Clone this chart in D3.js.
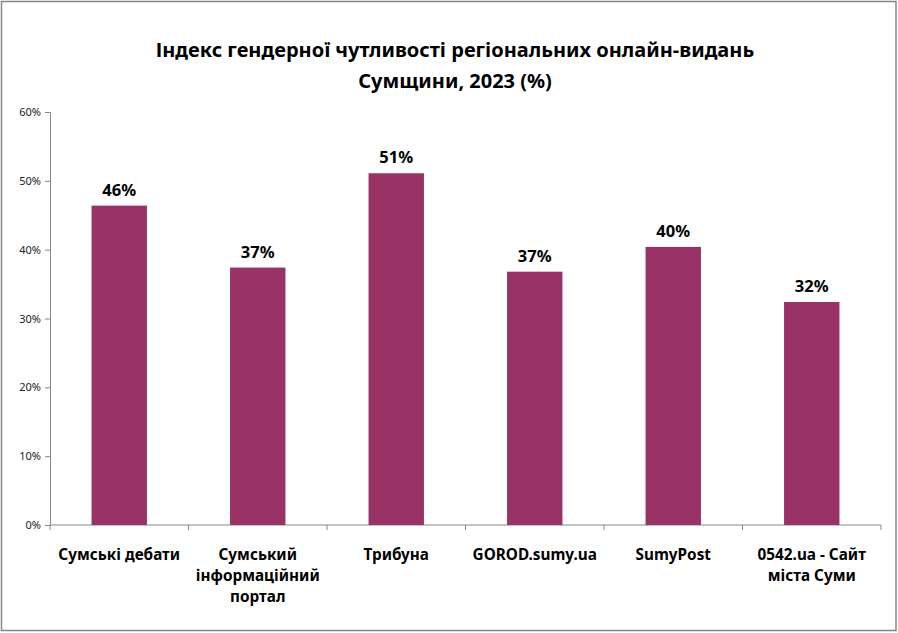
<!DOCTYPE html>
<html lang="uk">
<head>
<meta charset="UTF-8">
<title>Індекс гендерної чутливості</title>
<script src="https://d3js.org/d3.v7.min.js"></script>
<style>
    body { margin: 0; padding: 0; background: #fff; }
    svg { display: block; font-family: "Noto Sans", "Open Sans", sans-serif; }
    .cat-label { font-size: 15.3px; font-weight: bold; fill: #000; }
    .val-label { font-size: 16.5px; font-weight: bold; fill: #000; }
    .title { font-size: 20px; font-weight: bold; fill: #000; }
</style>
</head>
<body>
<div id="chart"></div>
<script>
    const categories = [
        ["Сумські дебати"],
        ["Сумський", "інформаційний", "портал"],
        ["Трибуна"],
        ["GOROD.sumy.ua"],
        ["SumyPost"],
        ["0542.ua - Сайт", "міста Суми"]
    ];
    const values = [46.4, 37.4, 51.1, 36.8, 40.4, 32.4];
    const yTicks = [0, 10, 20, 30, 40, 50, 60];
    const titleLines = ["Індекс гендерної чутливості регіональних онлайн-видань", "Сумщини, 2023 (%)"];

    const width = 898, height = 633;
    const margin = { top: 112, right: 17, bottom: 108, left: 50 };

    const svg = d3.select("#chart").append("svg")
        .attr("width", width)
        .attr("height", height);

    svg.append("rect")
        .attr("x", 1.5).attr("y", 1.5)
        .attr("width", width - 3.5).attr("height", height - 4)
        .attr("fill", "#fff")
        .attr("stroke", "#868686")
        .attr("stroke-width", 1.5);

    const x = d3.scaleBand()
        .domain(d3.range(categories.length))
        .range([margin.left, width - margin.right])
        .paddingInner(0.6)
        .paddingOuter(0.3);

    const y = d3.scaleLinear()
        .domain([0, 60])
        .range([height - margin.bottom, margin.top]);

    // title
    svg.append("g").selectAll("text")
        .data(titleLines)
        .enter().append("text")
        .attr("class", "title")
        .attr("x", 455)
        .attr("y", (d, i) => 57 + i * 31)
        .attr("text-anchor", "middle")
        .text(d => d);

    // y axis
    const yAxis = svg.append("g")
        .attr("transform", `translate(${margin.left},0)`)
        .call(d3.axisLeft(y).tickValues(yTicks).tickSize(5).tickFormat(d => d + "%"));
    yAxis.select(".domain").attr("stroke", "#868686");
    yAxis.selectAll(".tick line").attr("stroke", "#868686");
    yAxis.selectAll(".tick text").attr("x", -9)
        .style("font-family", "'Noto Sans', sans-serif").style("font-size", "11px").attr("fill", "#222");

    // x axis line with ticks between categories
    const x0 = margin.left, x1 = width - margin.right;
    const base = y(0);
    svg.append("line")
        .attr("x1", x0).attr("x2", x1)
        .attr("y1", base).attr("y2", base)
        .attr("stroke", "#868686");
    svg.append("g").selectAll("line")
        .data(d3.range(categories.length + 1))
        .enter().append("line")
        .attr("x1", i => x0 + i * (x1 - x0) / categories.length)
        .attr("x2", i => x0 + i * (x1 - x0) / categories.length)
        .attr("y1", base).attr("y2", base + 5)
        .attr("stroke", "#868686");

    // bars
    svg.append("g").selectAll("rect")
        .data(values)
        .enter().append("rect")
        .attr("x", (d, i) => x(i))
        .attr("y", d => y(d))
        .attr("width", x.bandwidth())
        .attr("height", d => y(0) - y(d))
        .attr("fill", "#993366");

    // value labels
    svg.append("g").selectAll("text")
        .data(values)
        .enter().append("text")
        .attr("class", "val-label")
        .attr("x", (d, i) => x(i) + x.bandwidth() / 2)
        .attr("y", d => y(d) - 10)
        .attr("text-anchor", "middle")
        .text(d => Math.round(d) + "%");

    // category labels
    const cat = svg.append("g").selectAll("text")
        .data(categories)
        .enter().append("text")
        .attr("class", "cat-label")
        .attr("text-anchor", "middle")
        .attr("x", (d, i) => x(i) + x.bandwidth() / 2)
        .attr("y", base + 35);
    cat.selectAll("tspan")
        .data(d => d)
        .enter().append("tspan")
        .attr("x", function () { return this.parentNode.getAttribute("x"); })
        .attr("dy", (d, i) => i === 0 ? 0 : 21)
        .text(d => d);
</script>
</body>
</html>
